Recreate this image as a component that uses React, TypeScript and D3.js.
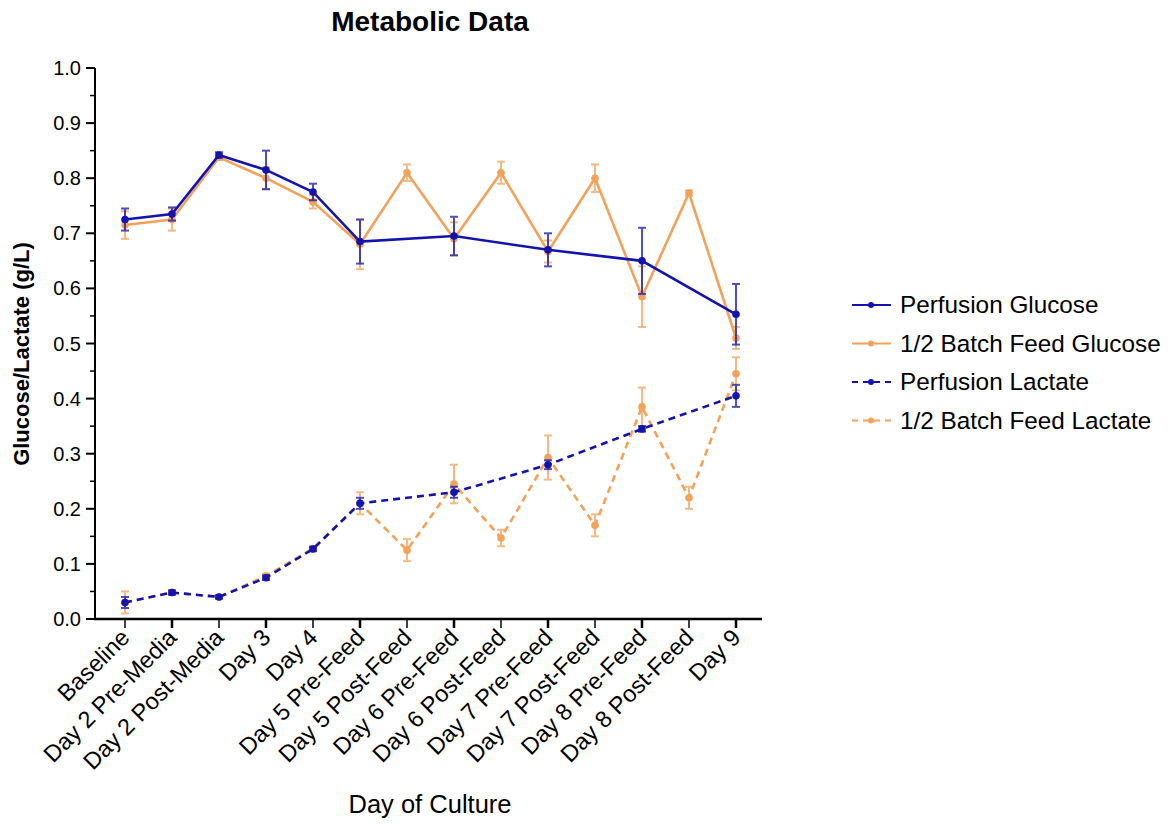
import React from "react";
import * as d3 from "d3";

const categories = ["Baseline","Day 2 Pre-Media","Day 2 Post-Media","Day 3","Day 4","Day 5 Pre-Feed","Day 5 Post-Feed","Day 6 Pre-Feed","Day 6 Post-Feed","Day 7 Pre-Feed","Day 7 Post-Feed","Day 8 Pre-Feed","Day 8 Post-Feed","Day 9"];

// null = not measured
const perfGlucose = [0.725,0.735,0.842,0.815,0.775,0.685,null,0.695,null,0.67,null,0.65,null,0.553];
const perfGlucoseErr = [0.02,0.012,0.005,0.035,0.015,0.04,null,0.035,null,0.03,null,0.06,null,0.055];
const batchGlucose = [0.715,0.725,0.838,0.80,0.757,0.68,0.81,0.69,0.81,0.667,0.80,0.585,0.773,0.51];
const batchGlucoseErr = [0.025,0.02,0.005,0.02,0.012,0.045,0.015,0.03,0.02,0.02,0.025,0.055,0.005,0.02];
const perfLactate = [0.03,0.048,0.04,0.075,0.127,0.21,null,0.23,null,0.28,null,0.345,null,0.405];
const perfLactateErr = [0.01,0.004,0.003,0.004,0.004,0.01,null,0.01,null,0.008,null,0.005,null,0.02];
const batchLactate = [0.03,0.048,0.04,0.078,0.128,0.21,0.125,0.245,0.147,0.293,0.17,0.385,0.22,0.445];
const batchLactateErr = [0.02,0.004,0.003,0.004,0.004,0.02,0.02,0.035,0.015,0.04,0.02,0.035,0.02,0.03];
const yTicks = [0,0.1,0.2,0.3,0.4,0.5,0.6,0.7,0.8,0.9,1.0];

const BLUE = "#1414ad";
const ORANGE = "#f2a25a";

const series = [
  { name: "Perfusion Glucose", vals: perfGlucose, errs: perfGlucoseErr, color: BLUE, dash: null },
  { name: "1/2 Batch Feed Glucose", vals: batchGlucose, errs: batchGlucoseErr, color: ORANGE, dash: null },
  { name: "Perfusion Lactate", vals: perfLactate, errs: perfLactateErr, color: BLUE, dash: "7,5" },
  { name: "1/2 Batch Feed Lactate", vals: batchLactate, errs: batchLactateErr, color: ORANGE, dash: "7,5" },
];

export default function App() {
  const W = 1168, H = 824;
  const x0 = 95, x1 = 762, yTop = 68, yBot = 619;
  const x = d3.scaleLinear().domain([0, categories.length - 1]).range([125, 736]);
  const y = d3.scaleLinear().domain([0, 1]).range([yBot, yTop]);
  const font = "Liberation Sans, Arial, sans-serif";
  const drawOrder = [1, 3, 0, 2];
  const minor = d3.range(0.05, 1, 0.1);
  return (
    <svg width={W} height={H} style={{ position: "absolute", left: 0, top: 0, background: "#fff" }}>
      <text x={430} y={31} textAnchor="middle" fontFamily={font} fontWeight="bold" fontSize={28}>Metabolic Data</text>
      {/* y axis */}
      <line x1={x0} x2={x0} y1={yTop} y2={yBot + 1} stroke="#000" strokeWidth={2} />
      {yTicks.map((t) => (
        <g key={t}>
          <line x1={x0 - 9} x2={x0} y1={y(t)} y2={y(t)} stroke="#000" strokeWidth={2} />
          <text x={x0 - 14} y={y(t) + 7} textAnchor="end" fontFamily={font} fontSize={20}>{t.toFixed(1)}</text>
        </g>
      ))}
      {minor.map((t) => (
        <line key={"m" + t} x1={x0 - 5} x2={x0} y1={y(t)} y2={y(t)} stroke="#000" strokeWidth={1.5} />
      ))}
      <text transform={`translate(29,${354}) rotate(-90)`} textAnchor="middle" fontFamily={font} fontWeight="bold" fontSize={22}>Glucose/Lactate (g/L)</text>
      {/* x axis */}
      <line x1={x0 - 1} x2={x1} y1={yBot} y2={yBot} stroke="#000" strokeWidth={2.5} />
      {categories.map((c, i) => (
        <g key={c}>
          <line x1={x(i)} x2={x(i)} y1={yBot} y2={yBot + 9} stroke="#000" strokeWidth={i % 2 === 1 ? 2.5 : 1.5} />
          <text transform={`translate(${x(i) + 6},${yBot + 20}) rotate(-45)`} textAnchor="end" fontFamily={font} fontSize={23.5}>{c}</text>
        </g>
      ))}
      <text x={430} y={813} textAnchor="middle" fontFamily={font} fontSize={25.5}>Day of Culture</text>
      {/* series */}
      {drawOrder.map((si) => {
        const s = series[si];
        const pts = s.vals.map((v, i) => ({ v, i, e: s.errs[i] })).filter((p) => p.v !== null) as { v: number; i: number; e: number | null }[];
        const line = d3.line<{ v: number; i: number }>().x((p) => x(p.i)).y((p) => y(p.v));
        return (
          <g key={s.name}>
            {pts.map((p) => p.e ? (
              <g key={"e" + p.i} stroke={s.color} strokeWidth={2} opacity={0.75}>
                <line x1={x(p.i)} x2={x(p.i)} y1={y(p.v - p.e)} y2={y(p.v + p.e)} />
                <line x1={x(p.i) - 4} x2={x(p.i) + 4} y1={y(p.v - p.e)} y2={y(p.v - p.e)} />
                <line x1={x(p.i) - 4} x2={x(p.i) + 4} y1={y(p.v + p.e)} y2={y(p.v + p.e)} />
              </g>
            ) : null)}
            <path d={line(pts) || ""} fill="none" stroke={s.color} strokeWidth={2.6} strokeDasharray={s.dash || undefined} />
            {pts.map((p) => (
              <circle key={"c" + p.i} cx={x(p.i)} cy={y(p.v)} r={3.8} fill={s.color} />
            ))}
          </g>
        );
      })}
      {/* legend */}
      {series.map((s, k) => {
        const ly = 305 + k * 38.5;
        return (
          <g key={"l" + k}>
            <line x1={852} x2={891} y1={ly} y2={ly} stroke={s.color} strokeWidth={2} strokeDasharray={s.dash ? "6,5" : undefined} />
            <circle cx={871} cy={ly} r={3} fill={s.color} />
            <text x={900} y={ly + 8} fontFamily={font} fontSize={24.3}>{s.name}</text>
          </g>
        );
      })}
    </svg>
  );
}
